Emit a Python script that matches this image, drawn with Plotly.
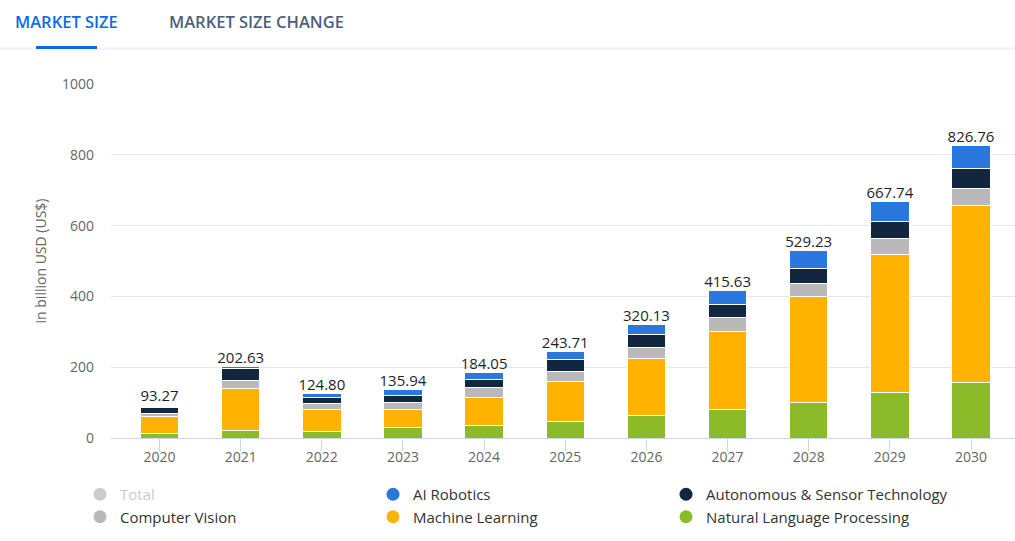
import plotly.graph_objects as go

years = ["2020", "2021", "2022", "2023", "2024", "2025", "2026", "2027", "2028", "2029", "2030"]
totals = [93.27, 202.63, 124.80, 135.94, 184.05, 243.71, 320.13, 415.63, 529.23, 667.74, 826.76]
nlp = [12.0, 20.0, 17.0, 30.0, 36.42, 46.0, 64.0, 80.0, 101.0, 128.6, 156.0]
machine_learning = [47.5, 119.0, 63.4, 50.0, 79.29, 113.0, 162.0, 221.0, 298.0, 391.0, 501.0]
computer_vision = [10.5, 24.5, 17.0, 21.0, 25.80, 30.0, 30.0, 38.0, 38.0, 44.0, 48.0]
autonomous = [16.5, 32.0, 17.0, 20.0, 24.12, 32.0, 37.0, 37.0, 43.0, 48.0, 55.0]
ai_robotics = [0.0, 7.13, 10.4, 14.94, 18.42, 22.71, 27.13, 39.63, 49.23, 56.14, 66.76]
y_ticks = [0, 200, 400, 600, 800, 1000]

C_ROB = "#2a77de"
C_AUTO = "#12273f"
C_CV = "#b9b9b9"
C_ML = "#ffb200"
C_NLP = "#8bbb28"

FONT = "Open Sans"

fig = go.Figure()

stack = [
    ("Natural Language Processing", nlp, C_NLP),
    ("Machine Learning", machine_learning, C_ML),
    ("Computer Vision", computer_vision, C_CV),
    ("Autonomous & Sensor Technology", autonomous, C_AUTO),
    ("AI Robotics", ai_robotics, C_ROB),
]
for name, vals, col in stack:
    fig.add_trace(go.Bar(
        x=years, y=vals, name=name, showlegend=False,
        marker=dict(color=col, line=dict(color="white", width=1)),
        hoverinfo="x+y+name",
    ))

# total labels
fig.add_trace(go.Scatter(
    x=years, y=totals, mode="text", text=[f"{t:.2f}" for t in totals],
    textposition="top center", showlegend=False, hoverinfo="skip",
    textfont=dict(family=FONT, size=15, color="#1f1f1f"),
))

# legend entries (circles)
legend_items = [
    ("<span style='color:#cccccc'>Total</span>", "#cccccc"),
    ("AI Robotics", C_ROB),
    ("Autonomous & Sensor Technology", C_AUTO),
    ("Computer Vision", C_CV),
    ("Machine Learning", C_ML),
    ("Natural Language Processing", C_NLP),
]
for name, col in legend_items:
    fig.add_trace(go.Scatter(
        x=[None], y=[None], mode="markers", name=name,
        marker=dict(symbol="circle", size=13, color=col),
        hoverinfo="skip",
    ))

L, R, T, B = 111, 0, 84, 103
W, H = 1015, 541
pw = W - L - R
ph = H - T - B

def px(x):
    return (x - L) / pw

def py(y):
    return (H - B - y) / ph

fig.update_layout(
    width=W, height=H,
    margin=dict(l=L, r=R, t=T, b=B),
    barmode="stack", bargap=0.525,
    paper_bgcolor="white", plot_bgcolor="white",
    font=dict(family=FONT, color="#666666", size=14),
    showlegend=True,
    legend=dict(
        orientation="h", x=px(80), y=py(478), xanchor="left", yanchor="top",
        traceorder="normal",
        entrywidth=248, entrywidthmode="pixels",
        font=dict(family=FONT, size=15, color="#333333"),
        tracegroupgap=0, itemclick=False, bgcolor="rgba(0,0,0,0)",
    ),
    xaxis=dict(
        type="category", range=[-0.598, 10.542],
        showgrid=False, showline=True, linecolor="#ccd6eb", linewidth=1,
        ticks="outside", ticklen=12, tickcolor="#ccd6eb", tickwidth=1,
        ticklabelstandoff=-6,
        tickfont=dict(family=FONT, size=14, color="#666666"),
        fixedrange=True,
    ),
    yaxis=dict(
        range=[0, 1000], tickvals=y_ticks, ticktext=[str(v) for v in y_ticks],
        showgrid=True, gridcolor="#e6e6e6", gridwidth=1,
        zeroline=False, showline=False, ticks="",
        ticklabelstandoff=16,
        tickfont=dict(family=FONT, size=14, color="#666666"),
        title=dict(text="in billion USD (US$)", standoff=12,
                   font=dict(family=FONT, size=14, color="#666666")),
        fixedrange=True,
    ),
)

# tabs header
fig.add_shape(type="line", xref="paper", yref="paper",
              x0=px(0), x1=px(1015), y0=py(48.5), y1=py(48.5),
              line=dict(color="#eef2f7", width=2))
fig.add_shape(type="line", xref="paper", yref="paper",
              x0=px(36), x1=px(97), y0=py(47.5), y1=py(47.5),
              line=dict(color="#0a6ce4", width=3))
fig.add_annotation(xref="paper", yref="paper", x=px(13), y=py(21),
                   xanchor="left", yanchor="middle", showarrow=False,
                   text="MARKET SIZE",
                   font=dict(family=FONT, size=16.5, color="#0a6ce4", weight=600))
fig.add_annotation(xref="paper", yref="paper", x=px(167), y=py(21),
                   xanchor="left", yanchor="middle", showarrow=False,
                   text="MARKET SIZE CHANGE",
                   font=dict(family=FONT, size=16.5, color="#4b5f7b", weight=600))

fig.write_html("out.html", config={"displayModeBar": False},
               post_script="document.body.style.margin='0';")
